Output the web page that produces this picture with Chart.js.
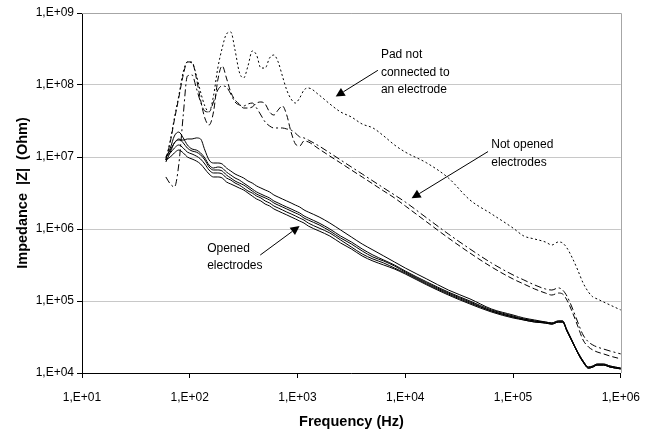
<!DOCTYPE html>
<html><head><meta charset="utf-8">
<script src="https://cdn.jsdelivr.net/npm/chart.js@4.4.1/dist/chart.umd.min.js"></script>
<style>html,body{margin:0;padding:0;background:#fff;} #wrap{width:652px;height:433px;}</style>
</head><body>
<div id="wrap"><canvas id="c" width="652" height="433"></canvas></div>
<script>
// Frequencies (Hz)
const freqHz = [60,66,72,79,87,95,105,115,126,138,
  151,166,182,200,219,240,263,288,316,347,
  380,417,457,501,550,603,661,724,794,871,
  955,1047,1148,1259,1585,1995,2512,3162,3981,5012,
  6310,7943,10000,15849,25119,39811,63096,100000,125893,158489,
  199526,229087,263027,288403,316228,354813,398107,446684,501187,549541,
  602560,691831,794328,1000000];

// |Z| (Ohm) — pad not connected to an electrode
const padNotConnected = [9.1e6,1.72e7,3.48e7,7.03e7,1.52e8,2.09e8,2.02e8,1.38e8,7.99e7,5.11e7,
  4.22e7,7.03e7,1.72e8,3.27e8,5.11e8,5.45e8,3.06e8,1.52e8,1.25e8,1.84e8,
  2.97e8,2.61e8,1.72e8,1.72e8,2.37e8,2.61e8,2.09e8,1.33e8,8.52e7,6.39e7,
  5.62e7,6.60e7,8.52e7,9.09e7,7.26e7,5.45e7,4.22e7,3.59e7,2.87e7,2.53e7,
  1.96e7,1.47e7,1.17e7,8.25e6,5.11e6,2.53e6,1.62e6,1.03e6,7.99e5,7.26e5,
  6.60e5,6.00e5,6.60e5,6.39e5,5.45e5,3.96e5,2.70e5,1.78e5,1.33e5,1.14e5,
  1.07e5,9.69e4,8.80e4,7.50e4];

// |Z| (Ohm) — not opened electrodes
const notOpenedA = [9.1e6,1.62e7,3.27e7,6.60e7,1.38e8,2.09e8,2.09e8,1.25e8,6.19e7,3.48e7,
  2.78e7,4.22e7,1.17e8,1.84e8,1.25e8,7.99e7,6.19e7,5.45e7,4.79e7,4.79e7,
  4.95e7,5.62e7,5.81e7,5.45e7,4.22e7,3.83e7,4.50e7,5.11e7,3.83e7,2.22e7,
  1.52e7,1.42e7,1.67e7,1.62e7,1.29e7,1.03e7,8.25e6,6.60e6,5.28e6,4.22e6,
  3.37e6,2.70e6,2.09e6,1.25e6,7.50e5,4.64e5,2.97e5,2.02e5,1.72e5,1.47e5,
  1.29e5,1.21e5,1.29e5,1.25e5,1.03e5,7.03e4,4.50e4,2.87e4,2.30e4,2.09e4,
  1.96e4,1.84e4,1.72e4,1.57e4];
const notOpenedB = [5.28e6,4.22e6,3.83e6,7.74e6,3.83e7,1.33e8,1.38e8,9.09e7,5.81e7,4.35e7,
  4.22e7,5.81e7,8.52e7,9.69e7,9.38e7,7.50e7,5.81e7,5.28e7,5.11e7,5.45e7,
  5.62e7,4.79e7,3.83e7,3.06e7,2.70e7,2.53e7,2.53e7,2.53e7,2.45e7,2.37e7,
  2.15e7,1.90e7,1.84e7,1.72e7,1.42e7,1.14e7,9.09e6,7.26e6,5.81e6,4.64e6,
  3.71e6,2.97e6,2.37e6,1.42e6,8.52e5,5.28e5,3.37e5,2.30e5,1.96e5,1.67e5,
  1.47e5,1.42e5,1.52e5,1.42e5,1.17e5,7.99e4,5.11e4,3.37e4,2.70e4,2.45e4,
  2.30e4,2.15e4,2.02e4,1.84e4];

// |Z| (Ohm) — opened electrodes
const opened1 = [8.52e6,1.17e7,1.57e7,1.72e7,1.72e7,1.78e7,1.78e7,1.84e7,1.78e7,1.25e7,
  9.09e6,8.25e6,8.25e6,7.99e6,7.03e6,6.39e6,5.81e6,5.45e6,5.11e6,4.64e6,
  4.35e6,3.96e6,3.71e6,3.48e6,3.27e6,2.97e6,2.78e6,2.61e6,2.45e6,2.30e6,
  2.15e6,2.02e6,1.84e6,1.72e6,1.47e6,1.21e6,9.69e5,7.74e5,6.19e5,5.11e5,
  4.22e5,3.48e5,2.87e5,2.02e5,1.42e5,1.07e5,7.74e4,6.39e4,5.81e4,5.45e4,
  5.11e4,4.95e4,5.28e4,5.28e4,3.96e4,2.78e4,1.96e4,1.47e4,1.21e4,1.25e4,
  1.33e4,1.33e4,1.25e4,1.17e4];
const opened2 = [9.69e6,1.33e7,1.96e7,2.22e7,1.84e7,1.47e7,1.29e7,1.25e7,1.14e7,9.69e6,
  7.74e6,7.03e6,7.26e6,7.03e6,6.19e6,5.62e6,5.11e6,4.79e6,4.35e6,3.96e6,
  3.59e6,3.27e6,3.06e6,2.87e6,2.70e6,2.45e6,2.30e6,2.15e6,2.02e6,1.90e6,
  1.78e6,1.67e6,1.52e6,1.42e6,1.21e6,1.00e6,7.99e5,6.60e5,5.28e5,4.35e5,
  3.71e5,3.16e5,2.61e5,1.84e5,1.33e5,1.00e5,7.50e4,6.19e4,5.62e4,5.28e4,
  5.11e4,4.95e4,5.28e4,5.28e4,3.96e4,2.78e4,1.96e4,1.47e4,1.21e4,1.25e4,
  1.33e4,1.33e4,1.25e4,1.17e4];
const opened3 = [1.00e7,1.25e7,1.57e7,1.78e7,1.57e7,1.33e7,1.21e7,1.17e7,1.07e7,9.09e6,
  7.26e6,6.60e6,6.60e6,6.39e6,5.62e6,5.11e6,4.64e6,4.35e6,4.08e6,3.71e6,
  3.37e6,3.06e6,2.87e6,2.70e6,2.53e6,2.30e6,2.15e6,2.02e6,1.90e6,1.78e6,
  1.67e6,1.57e6,1.42e6,1.33e6,1.14e6,9.38e5,7.50e5,6.19e5,4.95e5,4.08e5,
  3.59e5,3.06e5,2.53e5,1.78e5,1.29e5,9.69e4,7.26e4,6.00e4,5.62e4,5.28e4,
  4.95e4,4.79e4,5.11e4,5.11e4,3.83e4,2.70e4,1.90e4,1.42e4,1.17e4,1.21e4,
  1.29e4,1.29e4,1.21e4,1.14e4];
const opened4 = [1.03e7,1.14e7,1.33e7,1.47e7,1.33e7,1.17e7,1.10e7,1.03e7,9.38e6,7.99e6,
  6.60e6,6.00e6,6.00e6,5.81e6,5.11e6,4.79e6,4.35e6,4.08e6,3.71e6,3.37e6,
  3.16e6,2.87e6,2.70e6,2.45e6,2.30e6,2.09e6,1.96e6,1.84e6,1.72e6,1.62e6,
  1.52e6,1.42e6,1.33e6,1.21e6,1.03e6,8.80e5,7.03e5,5.62e5,4.50e5,3.83e5,
  3.37e5,2.87e5,2.45e5,1.72e5,1.25e5,9.38e4,7.26e4,6.00e4,5.45e4,5.11e4,
  4.95e4,4.79e4,5.11e4,5.11e4,3.83e4,2.70e4,1.90e4,1.42e4,1.17e4,1.21e4,
  1.29e4,1.29e4,1.21e4,1.14e4];
const opened5 = [9.09e6,1.00e7,1.14e7,1.25e7,1.14e7,1.00e7,9.38e6,8.80e6,7.99e6,6.81e6,
  5.81e6,5.28e6,5.28e6,5.11e6,4.50e6,4.22e6,3.96e6,3.71e6,3.48e6,3.16e6,
  2.87e6,2.61e6,2.45e6,2.22e6,2.09e6,1.90e6,1.78e6,1.67e6,1.57e6,1.47e6,
  1.38e6,1.29e6,1.21e6,1.10e6,9.38e5,7.99e5,6.39e5,5.28e5,4.22e5,3.59e5,
  3.16e5,2.78e5,2.37e5,1.67e5,1.21e5,9.09e4,7.03e4,5.81e4,5.45e4,5.11e4,
  4.95e4,4.79e4,5.11e4,5.11e4,3.83e4,2.70e4,1.90e4,1.42e4,1.17e4,1.21e4,
  1.29e4,1.29e4,1.21e4,1.14e4];

// Axis ticks
const xTickValues = [1e1,1e2,1e3,1e4,1e5,1e6];
const xTickLabels = ['1,E+01','1,E+02','1,E+03','1,E+04','1,E+05','1,E+06'];
const yTickValues = [1e4,1e5,1e6,1e7,1e8,1e9];
const yTickLabels = ['1,E+04','1,E+05','1,E+06','1,E+07','1,E+08','1,E+09'];

// Callout labels: text anchor, arrow tail, arrow head (data coordinates: Hz, Ohm)
const noteText = [['Pad not','connected to','an electrode'],['Not opened','electrodes'],['Opened','electrodes']];
const noteTextAt = [[5940,2.6e8],[62800,1.47e7],[145,5.4e5]];
const noteTail = [[5570,1.6e8],[58600,1.19e7],[451,4.35e5]];
const noteHead = [[2260,6.9e7],[11450,2.67e6],[1045,1.1e6]];

const FONT = '"Liberation Sans", Arial, Helvetica, sans-serif';

const mk = (vals, dash) => ({
  data: freqHz.map((f, i) => ({x: f, y: vals[i]})),
  borderColor: '#000', borderWidth: 1, borderDash: dash,
  pointRadius: 0, fill: false, cubicInterpolationMode: 'monotone'
});

const annotate = {
  id: 'annotate',
  afterDatasetsDraw(chart) {
    const {ctx, scales: {x, y}, chartArea: a} = chart;
    ctx.save();
    // plot frame (top/right)
    ctx.strokeStyle = '#a6a6a6'; ctx.lineWidth = 1;
    ctx.beginPath();
    ctx.moveTo(a.left, Math.round(a.top) + 0.5);
    ctx.lineTo(Math.round(a.right) + 0.5, Math.round(a.top) + 0.5);
    ctx.lineTo(Math.round(a.right) + 0.5, a.bottom);
    ctx.stroke();
    ctx.fillStyle = '#000'; ctx.strokeStyle = '#000';
    ctx.font = '12px ' + FONT;
    ctx.textBaseline = 'middle'; ctx.textAlign = 'left';
    noteText.forEach((lines, k) => {
      const tx = x.getPixelForValue(noteTextAt[k][0]), ty = y.getPixelForValue(noteTextAt[k][1]);
      lines.forEach((s, i) => ctx.fillText(s, tx, ty + i * 17.5));
      const x0 = x.getPixelForValue(noteTail[k][0]), y0 = y.getPixelForValue(noteTail[k][1]);
      const x1 = x.getPixelForValue(noteHead[k][0]), y1 = y.getPixelForValue(noteHead[k][1]);
      const ang = Math.atan2(y1 - y0, x1 - x0);
      const L = 9, W = 4.5;
      const bx = x1 - L * Math.cos(ang), by = y1 - L * Math.sin(ang);
      ctx.beginPath(); ctx.moveTo(x0, y0); ctx.lineTo(bx, by); ctx.stroke();
      ctx.beginPath(); ctx.moveTo(x1, y1);
      ctx.lineTo(bx + W * Math.sin(ang), by - W * Math.cos(ang));
      ctx.lineTo(bx - W * Math.sin(ang), by + W * Math.cos(ang));
      ctx.closePath(); ctx.fill();
    });
    ctx.restore();
  }
};

new Chart(document.getElementById('c'), {
  type: 'line',
  data: {
    datasets: [
      mk(opened1, []), mk(opened2, []), mk(opened3, []), mk(opened4, []), mk(opened5, []),
      mk(notOpenedA, [6, 3]), mk(notOpenedB, [7, 3, 2, 3]),
      mk(padNotConnected, [2, 2.5])
    ]
  },
  options: {
    responsive: false, animation: false, devicePixelRatio: 1,
    layout: {padding: {left: 0, right: 22, top: 13, bottom: 0}},
    plugins: {legend: {display: false}, tooltip: {enabled: false}},
    scales: {
      x: {
        type: 'logarithmic', min: 10, max: 1e6,
        afterBuildTicks: s => { s.ticks = xTickValues.map(v => ({value: v})); },
        afterFit: s => { s.height = 60; },
        ticks: {autoSkip: false, maxRotation: 0, minRotation: 0, padding: 12, color: '#000',
          font: {family: FONT, size: 12}, callback: (v, i) => xTickLabels[i]},
        grid: {display: true, drawOnChartArea: false, drawTicks: true, tickLength: 5, tickColor: '#000'},
        border: {display: true, color: '#000', width: 1},
        title: {display: true, text: 'Frequency (Hz)', color: '#000',
          font: {family: FONT, size: 14.5, weight: 'bold'}, padding: {top: 0, bottom: 2}}
      },
      y: {
        type: 'logarithmic', min: 1e4, max: 1e9,
        afterBuildTicks: s => { s.ticks = yTickValues.map(v => ({value: v})); },
        afterFit: s => { s.width = 82; },
        ticks: {autoSkip: false, padding: 3, color: '#000',
          font: {family: FONT, size: 12}, callback: (v, i) => yTickLabels[i]},
        grid: {display: true, drawOnChartArea: true, drawTicks: true, tickLength: 5,
          color: '#c8c8c8', tickColor: '#000'},
        border: {display: true, color: '#000', width: 1},
        title: {display: true, text: 'Impedance  |Z|  (Ohm)', color: '#000',
          font: {family: FONT, size: 14.5, weight: 'bold'}, padding: {top: 14, bottom: 0}}
      }
    }
  },
  plugins: [annotate]
});
</script>
</body></html>
